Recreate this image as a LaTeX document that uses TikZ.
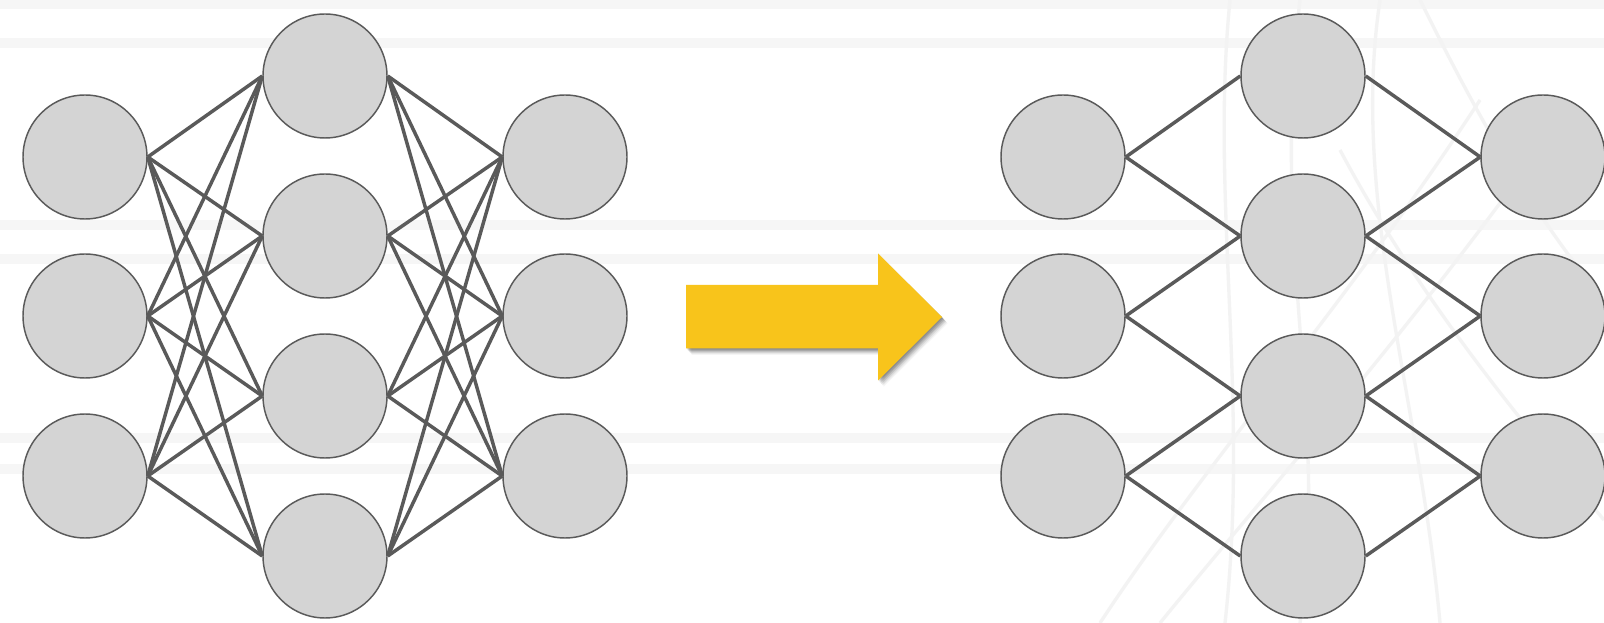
\documentclass[tikz,border=0pt]{standalone}
\usetikzlibrary{backgrounds}
\definecolor{nodefill}{HTML}{D4D4D4}
\definecolor{edgecol}{HTML}{5A5A5A}
\definecolor{arrowcol}{HTML}{F8C41B}
\definecolor{bandcol}{HTML}{F6F6F6}
\definecolor{curvecol}{HTML}{F3F3F3}
\tikzset{
  neuron/.style={circle, draw=edgecol, line width=1.1pt, fill=nodefill, minimum size=93pt, inner sep=0pt},
  link/.style={draw=edgecol, line width=2.6pt},
  band/.style={draw=bandcol, line width=7pt},
  bgcurve/.style={draw=curvecol, line width=2.5pt},
}
\begin{document}
\begin{tikzpicture}[x=0.75pt,y=-0.75pt]
\useasboundingbox (0,0) rectangle (1604,623);
\fill[white] (0,0) rectangle (1604,623);
% background bands
\foreach \yy in {4,43,225,259,438,469} {
  \draw[band] (0,\yy) -- (1604,\yy);
}
% faint background curves (right side)
\draw[bgcurve] (1230,0) .. controls (1210,200) and (1250,400) .. (1225,623);
\draw[bgcurve] (1300,0) .. controls (1270,250) and (1330,420) .. (1300,623);
\draw[bgcurve] (1380,0) .. controls (1350,200) and (1420,400) .. (1440,623);
\draw[bgcurve] (1100,623) .. controls (1200,470) and (1350,300) .. (1480,100);
\draw[bgcurve] (1160,623) .. controls (1260,500) and (1420,320) .. (1560,120);
\draw[bgcurve] (1340,150) .. controls (1420,300) and (1520,420) .. (1604,520);
\draw[bgcurve] (1420,0) .. controls (1460,80) and (1520,200) .. (1604,300);

% ---------- left network ----------
\node[neuron] (LI1) at (85,157) {};
\node[neuron] (LI2) at (85,316) {};
\node[neuron] (LI3) at (85,476) {};
\node[neuron] (LH1) at (325,76) {};
\node[neuron] (LH2) at (325,236) {};
\node[neuron] (LH3) at (325,396) {};
\node[neuron] (LH4) at (325,556) {};
\node[neuron] (LO1) at (565,157) {};
\node[neuron] (LO2) at (565,316) {};
\node[neuron] (LO3) at (565,476) {};
\foreach \i in {1,2,3} {
  \foreach \h in {1,2,3,4} {
    \draw[link] (LI\i.east) -- (LH\h.west);
    \draw[link] (LH\h.east) -- (LO\i.west);
  }
}

% ---------- arrow ----------
\foreach \k/\op in {1/0.10,2/0.10,3/0.10,4/0.09,5/0.07,6/0.05,7/0.04} {
  \fill[black, opacity=\op] ([shift={(\k*0.8,\k*0.9)}]686,285) -- ++(192,0) -- ++(0,-31.5) -- ++(64,63.5) -- ++(-64,63.5) -- ++(0,-32) -- ++(-192,0) -- cycle;
}
\fill[arrowcol] (686,285) coordinate (AS) -- (878,285) -- (878,253.5) -- (942,317) -- (878,380.5) -- (878,348.5) -- (686,348.5) -- cycle;

% ---------- right network ----------
\node[neuron] (RI1) at (1063,157) {};
\node[neuron] (RI2) at (1063,316) {};
\node[neuron] (RI3) at (1063,476) {};
\node[neuron] (RH1) at (1303,76) {};
\node[neuron] (RH2) at (1303,236) {};
\node[neuron] (RH3) at (1303,396) {};
\node[neuron] (RH4) at (1303,556) {};
\node[neuron] (RO1) at (1543,157) {};
\node[neuron] (RO2) at (1543,316) {};
\node[neuron] (RO3) at (1543,476) {};
\draw[link] (RI1.east) -- (RH1.west);
\draw[link] (RI1.east) -- (RH2.west);
\draw[link] (RI2.east) -- (RH2.west);
\draw[link] (RI2.east) -- (RH3.west);
\draw[link] (RI3.east) -- (RH3.west);
\draw[link] (RI3.east) -- (RH4.west);
\draw[link] (RH1.east) -- (RO1.west);
\draw[link] (RH2.east) -- (RO1.west);
\draw[link] (RH2.east) -- (RO2.west);
\draw[link] (RH3.east) -- (RO2.west);
\draw[link] (RH3.east) -- (RO3.west);
\draw[link] (RH4.east) -- (RO3.west);
\end{tikzpicture}
\end{document}
